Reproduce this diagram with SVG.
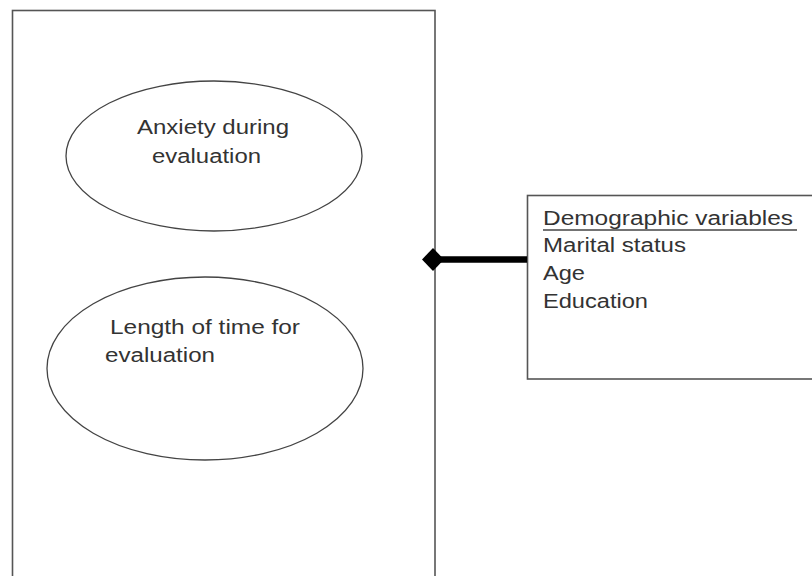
<svg xmlns="http://www.w3.org/2000/svg" width="812" height="576" viewBox="0 0 812 576">
<style>
.box{fill:#fff;stroke:#555;stroke-width:1.6}
.ell{fill:#fff;stroke:#444;stroke-width:1.3}
.t{font-family:"Liberation Sans",Arial,sans-serif;font-size:20px;fill:#333}
</style>
<rect width="812" height="576" fill="#fff"/>
<g id="container">
<rect class="box" x="12.5" y="10.5" width="422.5" height="600"/>
</g>
<g id="anxiety">
<ellipse class="ell" cx="214" cy="156" rx="148" ry="75"/>
<text class="t" x="137" y="134" textLength="152" lengthAdjust="spacingAndGlyphs">Anxiety during</text>
<text class="t" x="152" y="163" textLength="109" lengthAdjust="spacingAndGlyphs">evaluation</text>
</g>
<g id="length">
<ellipse class="ell" cx="205" cy="368.5" rx="158" ry="91.5"/>
<text class="t" x="110" y="334" textLength="190" lengthAdjust="spacingAndGlyphs">Length of time for</text>
<text class="t" x="105" y="362" textLength="110" lengthAdjust="spacingAndGlyphs">evaluation</text>
</g>
<g id="demographics">
<rect class="box" x="527.5" y="195.5" width="300" height="183.5"/>
<text class="t" x="543" y="225" textLength="250" lengthAdjust="spacingAndGlyphs">Demographic variables</text>
<line x1="543" y1="230" x2="797" y2="230" stroke="#444" stroke-width="1.4"/>
<text class="t" x="543" y="252" textLength="143" lengthAdjust="spacingAndGlyphs">Marital status</text>
<text class="t" x="543" y="280" textLength="42" lengthAdjust="spacingAndGlyphs">Age</text>
<text class="t" x="543" y="308" textLength="105" lengthAdjust="spacingAndGlyphs">Education</text>
</g>
<g id="connectors">
<line x1="433" y1="259.5" x2="527" y2="259.5" stroke="#000" stroke-width="6.5"/>
<polygon points="433,248 444,259.5 433,271 422,259.5" fill="#000"/>
</g>
</svg>
